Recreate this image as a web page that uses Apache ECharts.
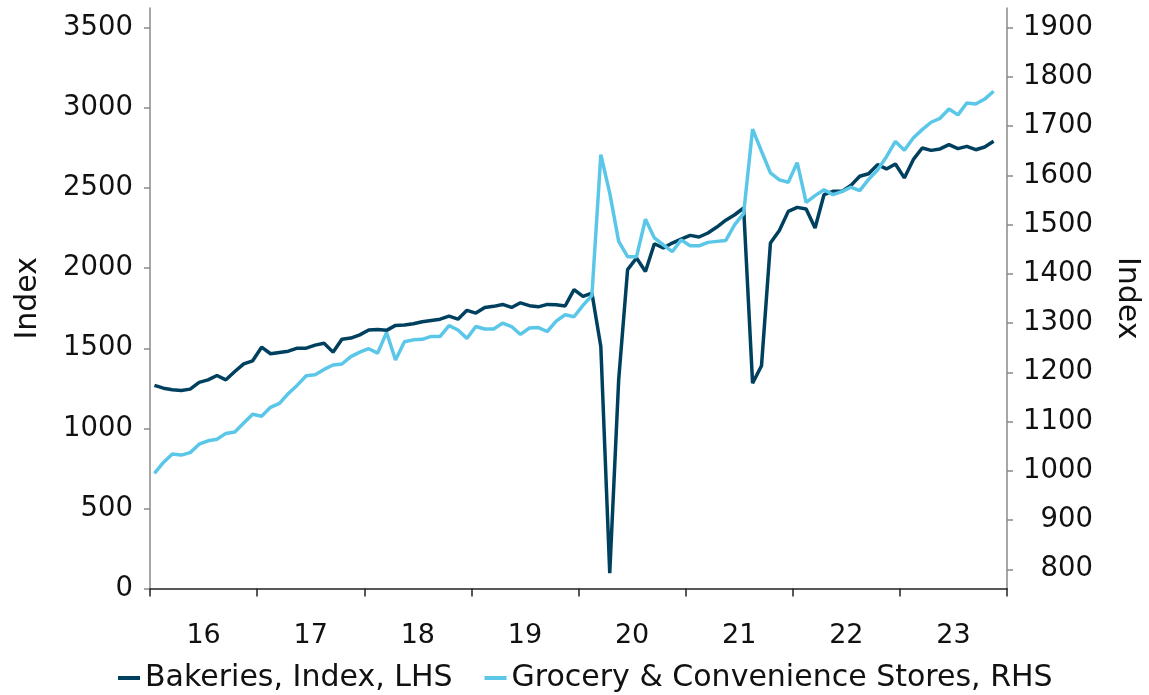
<!DOCTYPE html>
<html>
<head>
<meta charset="utf-8">
<script src="https://cdn.jsdelivr.net/npm/echarts@6/dist/echarts.min.js"></script>
<style>
  html, body { margin: 0; padding: 0; background: #ffffff; }
  #chart { width: 1149px; height: 695px; }
</style>
</head>
<body>
<div id="chart"></div>
<script>
// Monthly index levels, Jan 2016 onward
const years = ['16', '17', '18', '19', '20', '21', '22', '23'];
const months = [];
for (let y = 2016; y <= 2023; y++) {
  for (let m = 1; m <= 12; m++) months.push(y + '-' + String(m).padStart(2, '0'));
}

const seriesNames = ['Bakeries, Index, LHS', 'Grocery & Convenience Stores, RHS'];

// Bakeries, index (left axis)
const bakeries = [
  1268, 1251, 1241, 1237, 1245, 1287, 1303, 1330, 1303, 1355, 1403, 1422,
  1507, 1466, 1474, 1482, 1501, 1501, 1520, 1532, 1476, 1557, 1564, 1584,
  1614, 1618, 1612, 1643, 1645, 1653, 1666, 1674, 1682, 1701, 1682, 1737,
  1720, 1755, 1762, 1774, 1755, 1784, 1766, 1759, 1774, 1772, 1764, 1866,
  1824, 1845, 1511, 95, 1303, 1991, 2064, 1980, 2153, 2126, 2157, 2182,
  2205, 2195, 2220, 2257, 2300, 2334, 2376, 1282, 1391, 2157, 2236, 2355,
  2380, 2370, 2251, 2459, 2480, 2480, 2516, 2574, 2590, 2647, 2620, 2651,
  2564, 2678, 2751, 2736, 2745, 2772, 2747, 2761, 2740, 2757, 2793
];

// Grocery & convenience stores (right axis)
const grocery = [
  995, 1017, 1034, 1032, 1037, 1054, 1061, 1064, 1076, 1079, 1097, 1115,
  1111, 1129, 1137, 1157, 1174, 1193, 1195, 1206, 1215, 1217, 1232, 1241,
  1248, 1239, 1281, 1225, 1262, 1266, 1267, 1273, 1273, 1295, 1286, 1269,
  1293, 1288, 1288, 1300, 1293, 1277, 1290, 1291, 1283, 1304, 1317, 1313,
  1336, 1356, 1642, 1564, 1466, 1435, 1435, 1511, 1473, 1459, 1445, 1469,
  1457, 1457, 1464, 1466, 1468, 1500, 1523, 1694, 1649, 1605, 1591, 1586,
  1626, 1545, 1559, 1571, 1561, 1567, 1576, 1569, 1592, 1611, 1638, 1669,
  1651, 1676, 1693, 1708, 1716, 1735, 1723, 1747, 1745, 1755, 1771
];

const leftTicks = [0, 500, 1000, 1500, 2000, 2500, 3000, 3500];
const rightTicks = [800, 900, 1000, 1100, 1200, 1300, 1400, 1500, 1600, 1700, 1800, 1900];

const darkBlue = '#00405f';
const lightBlue = '#5bc7e8';
const axisGray = '#8a8a8a';
const textColor = '#111111';
const font = 'DejaVu Sans';

const plain = v => String(v);

const chart = echarts.init(document.getElementById('chart'), null, { renderer: 'canvas' });

chart.setOption({
  animation: false,
  backgroundColor: '#ffffff',
  grid: {
    left: 150, right: 142, top: 8, bottom: 106.5,
    containLabel: false,
    outerBoundsMode: 'none'
  },
  legend: {
    left: 118,
    top: 663,
    padding: 0,
    icon: 'rect',
    itemWidth: 22,
    itemHeight: 4,
    itemGap: 32,
    textStyle: { fontFamily: font, fontSize: 30, color: textColor },
    data: seriesNames
  },
  xAxis: [
    {
      type: 'category',
      data: months,
      boundaryGap: true,
      show: false
    },
    {
      type: 'category',
      data: years,
      boundaryGap: true,
      position: 'bottom',
      axisLine: { show: true, lineStyle: { color: '#222222', width: 1.5 } },
      axisTick: { show: true, length: 8, inside: false, lineStyle: { color: '#222222', width: 1.5 } },
      axisLabel: {
        margin: 34,
        fontFamily: font,
        fontSize: 27,
        color: textColor
      },
      splitLine: { show: false }
    }
  ],
  yAxis: [
    {
      type: 'value',
      position: 'left',
      min: 0,
      max: 3625,
      name: 'Index',
      nameLocation: 'middle',
      nameGap: 107,
      nameRotate: 90,
      nameTextStyle: { fontFamily: font, fontSize: 30, color: textColor },
      axisLine: { show: true, lineStyle: { color: axisGray, width: 1.5 } },
      axisTick: { show: true, length: 6, lineStyle: { color: axisGray, width: 1.5 }, customValues: leftTicks },
      axisLabel: {
        margin: 17,
        fontFamily: font,
        fontSize: 27.5,
        color: textColor,
        padding: [6, 0, 0, 0],
        formatter: plain,
        customValues: leftTicks
      },
      splitLine: { show: false }
    },
    {
      type: 'value',
      position: 'right',
      min: 761,
      max: 1940,
      name: 'Index',
      nameLocation: 'middle',
      nameGap: 105,
      nameRotate: -90,
      nameTextStyle: { fontFamily: font, fontSize: 30, color: textColor },
      axisLine: { show: true, lineStyle: { color: axisGray, width: 1.5 } },
      axisTick: { show: true, length: 6, lineStyle: { color: axisGray, width: 1.5 }, customValues: rightTicks },
      axisLabel: {
        margin: 86,
        align: 'right',
        fontFamily: font,
        fontSize: 27.5,
        color: textColor,
        padding: [6, 0, 0, 0],
        formatter: plain,
        customValues: rightTicks
      },
      splitLine: { show: false }
    }
  ],
  series: [
    {
      name: seriesNames[0],
      type: 'line',
      xAxisIndex: 0,
      yAxisIndex: 0,
      data: bakeries,
      showSymbol: false,
      symbol: 'none',
      lineStyle: { color: darkBlue, width: 3.5 },
      itemStyle: { color: darkBlue }
    },
    {
      name: seriesNames[1],
      type: 'line',
      xAxisIndex: 0,
      yAxisIndex: 1,
      data: grocery,
      showSymbol: false,
      symbol: 'none',
      lineStyle: { color: lightBlue, width: 3.5 },
      itemStyle: { color: lightBlue }
    }
  ]
});
</script>
</body>
</html>
